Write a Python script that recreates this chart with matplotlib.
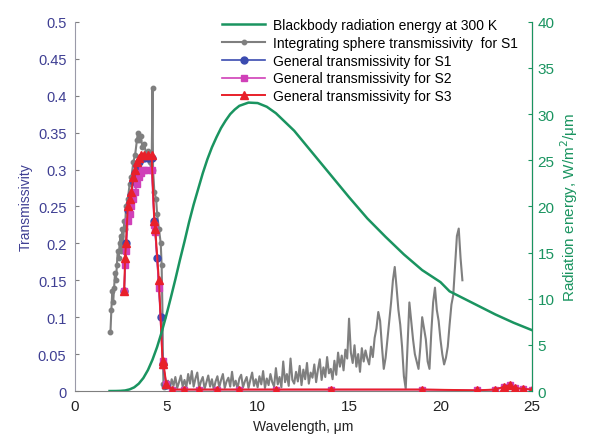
import numpy as np
import matplotlib
matplotlib.use("Agg")
import matplotlib.pyplot as plt

plt.rcParams['font.family'] = ['Liberation Sans', 'DejaVu Sans']

# --- Blackbody spectral emissive power at 300 K (W/m2/um) ---
bb_wl = [1.9, 2.0, 2.25, 2.5, 2.75, 3.0, 3.25, 3.5, 3.75, 4.0, 4.25, 4.5, 4.75,
         5.0, 5.25, 5.5, 5.75, 6.0, 6.25, 6.5, 6.75, 7.0, 7.25, 7.5, 7.75, 8.0,
         8.25, 8.5, 8.75, 9.0, 9.5, 10.0, 10.5, 11.0, 12.0, 13.0, 14.0, 15.0,
         16.0, 17.0, 18.0, 19.0, 20.0, 20.5, 21.0, 22.0, 23.0, 24.0, 25.0]
bb_energy = [0.0, 0.0, 0.004, 0.02, 0.06, 0.18, 0.40, 0.80, 1.41, 2.27, 3.40,
             4.76, 6.37, 8.17, 10.1, 12.1, 14.2, 16.2, 18.3, 20.2, 21.9, 23.6,
             25.1, 26.4, 27.5, 28.5, 29.3, 30.0, 30.5, 30.9, 31.25, 31.2, 30.8,
             30.1, 28.2, 25.8, 23.4, 21.0, 18.7, 16.7, 14.8, 13.1, 11.8, 10.8,
             10.3, 9.3, 8.3, 7.4, 6.6]

# --- Integrating sphere transmissivity, S1 ---
sphere_wl_bump = [1.95, 2.0, 2.05, 2.1, 2.15, 2.2, 2.25, 2.3, 2.35, 2.4, 2.45, 2.5,
                  2.55, 2.6, 2.65, 2.7, 2.75, 2.8, 2.9, 3.0, 3.1, 3.2, 3.3, 3.4,
                  3.45, 3.5, 3.6, 3.7, 3.8, 3.9, 4.0, 4.1, 4.2, 4.25, 4.28, 4.35,
                  4.45, 4.5, 4.6, 4.7, 4.75, 4.8, 4.82, 4.85, 4.9]
sphere_t_bump = [0.08, 0.11, 0.135, 0.12, 0.14, 0.16, 0.15, 0.17, 0.19, 0.18, 0.20,
                 0.21, 0.19, 0.22, 0.20, 0.23, 0.22, 0.25, 0.26, 0.28, 0.29, 0.31,
                 0.32, 0.34, 0.35, 0.34, 0.345, 0.33, 0.335, 0.32, 0.325, 0.31,
                 0.30, 0.41, 0.30, 0.27, 0.26, 0.24, 0.22, 0.20, 0.17, 0.10, 0.04,
                 0.01, 0.005]

sphere_wl_tail = np.round(np.arange(5.0, 21.25, 0.1), 1)
sphere_t_tail_milli = [
    8, 14, 3, 16, 7, 19, 4, 12, 21, 6,
    15, 5, 23, 10, 27, 6, 17, 25, 4, 13,
    19, 3, 12, 21, 6, 16, 2, 13, 20, 5,
    15, 23, 4, 13, 18, 6, 26, 7, 14, 3,
    17, 22, 5, 13, 19, 4, 15, 25, 7, 16,
    5, 20, 9, 27, 4, 17, 8, 23, 12, 6,
    31, 9, 19, 5, 40, 12, 23, 7, 44, 15,
    10, 26, 13, 34, 8, 29, 16, 38, 10, 25,
    18, 36, 12, 29, 43, 15, 32, 19, 46, 24,
    30, 16, 41, 22, 52, 33, 48, 28, 56, 44,
    98, 52, 38, 62, 33, 50, 26, 58, 40, 55,
    44, 36, 60, 46, 72, 85, 107, 95, 60, 30,
    45, 70, 95, 120, 150, 168, 140, 110, 90, 60,
    20, 3, 60, 120, 95, 70, 50, 40, 30, 60,
    100, 85, 70, 40, 30, 80, 120, 140, 110, 95,
    70, 50, 36, 45, 60, 90, 117, 130, 170, 210,
    220, 180, 150]

# --- General transmissivity for S1, S2, S3 ---
s1_wl = [2.7, 2.8, 2.9, 3.0, 3.1, 3.2, 3.3, 3.4, 3.5, 3.6, 3.8, 4.0, 4.2, 4.35,
         4.5, 4.7, 4.82, 5.0]
s1_t = [0.135, 0.20, 0.245, 0.255, 0.265, 0.285, 0.295, 0.305, 0.31, 0.315,
        0.315, 0.315, 0.315, 0.23, 0.18, 0.10, 0.037, 0.008]

s2_wl = [2.7, 2.75, 2.8, 2.9, 3.0, 3.1, 3.2, 3.3, 3.4, 3.5, 3.6, 3.7, 3.8, 4.0,
         4.2, 4.35, 4.4, 4.6, 4.8, 4.85, 5.0, 5.3, 6.0, 6.8, 7.8, 9.0, 11.0,
         14.0, 19.0, 22.0, 23.0, 23.5, 23.8, 24.1, 24.5, 25.0]
s2_t = [0.135, 0.17, 0.19, 0.23, 0.24, 0.25, 0.26, 0.27, 0.28, 0.29, 0.295, 0.30,
        0.30, 0.30, 0.30, 0.225, 0.215, 0.14, 0.04, 0.035, 0.01, 0.002, 0.002,
        0.002, 0.002, 0.002, 0.002, 0.002, 0.002, 0.001, 0.002, 0.006, 0.008,
        0.004, 0.003, 0.002]

s3_wl = [2.7, 2.75, 2.8, 2.9, 3.0, 3.1, 3.2, 3.3, 3.4, 3.5, 3.6, 3.8, 4.0, 4.2,
         4.35, 4.4, 4.6, 4.8, 4.85, 5.0, 5.3, 6.0, 6.8, 7.8, 9.0, 11.0, 14.0,
         19.0, 22.0, 23.0, 23.5, 23.8, 24.1, 24.5, 25.0]
s3_t = [0.135, 0.18, 0.20, 0.25, 0.26, 0.27, 0.29, 0.30, 0.31, 0.315, 0.32, 0.32,
        0.32, 0.32, 0.23, 0.22, 0.15, 0.04, 0.037, 0.01, 0.002, 0.002, 0.002,
        0.002, 0.002, 0.002, 0.002, 0.002, 0.001, 0.002, 0.006, 0.008, 0.004,
        0.003, 0.002]

x_ticks = [0, 5, 10, 15, 20, 25]
t_ticks = [0, 0.05, 0.1, 0.15, 0.2, 0.25, 0.3, 0.35, 0.4, 0.45, 0.5]
e_ticks = [0, 5, 10, 15, 20, 25, 30, 35, 40]

BLUE_TXT = '#3f3f93'
GREEN = '#1a9460'
GRAY = '#7f7f7f'

fig = plt.figure(figsize=(5.89, 4.39), dpi=100)
ax = fig.add_axes([0.127, 0.107, 0.776, 0.841])
ax2 = ax.twinx()

# transmissivity on the left axis
sphere_wl = list(sphere_wl_bump) + list(sphere_wl_tail)
sphere_t = list(sphere_t_bump) + [v / 1000 for v in sphere_t_tail_milli]
ax.plot(sphere_wl, sphere_t, color=GRAY, lw=1.5, marker='o', ms=3.2,
        markevery=list(range(len(sphere_wl_bump))),
        label='Integrating sphere transmissivity  for S1', zorder=3)
ax.plot(s1_wl, s1_t, color='#3b4bb0', lw=1.2, marker='o', ms=5,
        label='General transmissivity for S1', zorder=4)
ax.plot(s2_wl, s2_t, color='#d040b8', lw=1.2, marker='s', ms=4,
        label='General transmissivity for S2', zorder=5)
ax.plot(s3_wl, s3_t, color='#e8202a', lw=1.4, marker='^', ms=6,
        label='General transmissivity for S3', zorder=6)

# blackbody curve on the right axis
ax2.plot(bb_wl, bb_energy, color=GREEN, lw=1.8,
         label='Blackbody radiation energy at 300 K')

ax.set_xlim(0, 25)
ax.set_ylim(0, 0.5)
ax2.set_ylim(0, 40)
ax.set_xticks(x_ticks)
ax.set_xticklabels([str(v) for v in x_ticks])
ax.set_yticks(t_ticks)
ax.set_yticklabels(['0' if v == 0 else f'{v:g}' for v in t_ticks])
ax2.set_yticks(e_ticks)

ax.tick_params(axis='x', length=0, labelsize=11, colors='#222222', pad=6)
ax.tick_params(axis='y', direction='in', length=3, labelsize=10.5,
               colors=GRAY, labelcolor=BLUE_TXT, pad=6)
ax2.tick_params(axis='y', direction='in', length=3, labelsize=11,
                colors=GREEN, labelcolor=GREEN, pad=4)

for a in (ax, ax2):
    a.spines['top'].set_visible(False)
ax.spines['left'].set_color('#9a9aa8')
ax.spines['bottom'].set_color(GRAY)
ax2.spines['left'].set_visible(False)
ax2.spines['bottom'].set_visible(False)
ax2.spines['right'].set_color(GREEN)
ax2.patch.set_visible(False)

ax.set_xlabel('Wavelength, μm', fontsize=10, color='#222222', labelpad=4)
ax.set_ylabel('Transmissivity', fontsize=10, color=BLUE_TXT, labelpad=4)
ax2.set_ylabel('Radiation energy, W/m$^2$/μm', fontsize=11, color=GREEN,
               labelpad=3)

h2, l2 = ax2.get_legend_handles_labels()
h1, l1 = ax.get_legend_handles_labels()
ax2.legend(h2 + h1, l2 + l1, loc='upper left', bbox_to_anchor=(0.31, 1.025),
           frameon=False, fontsize=10, handlelength=3.1, handletextpad=0.6,
           labelspacing=0.27, borderaxespad=0)

fig.savefig('out.png', dpi=100)
